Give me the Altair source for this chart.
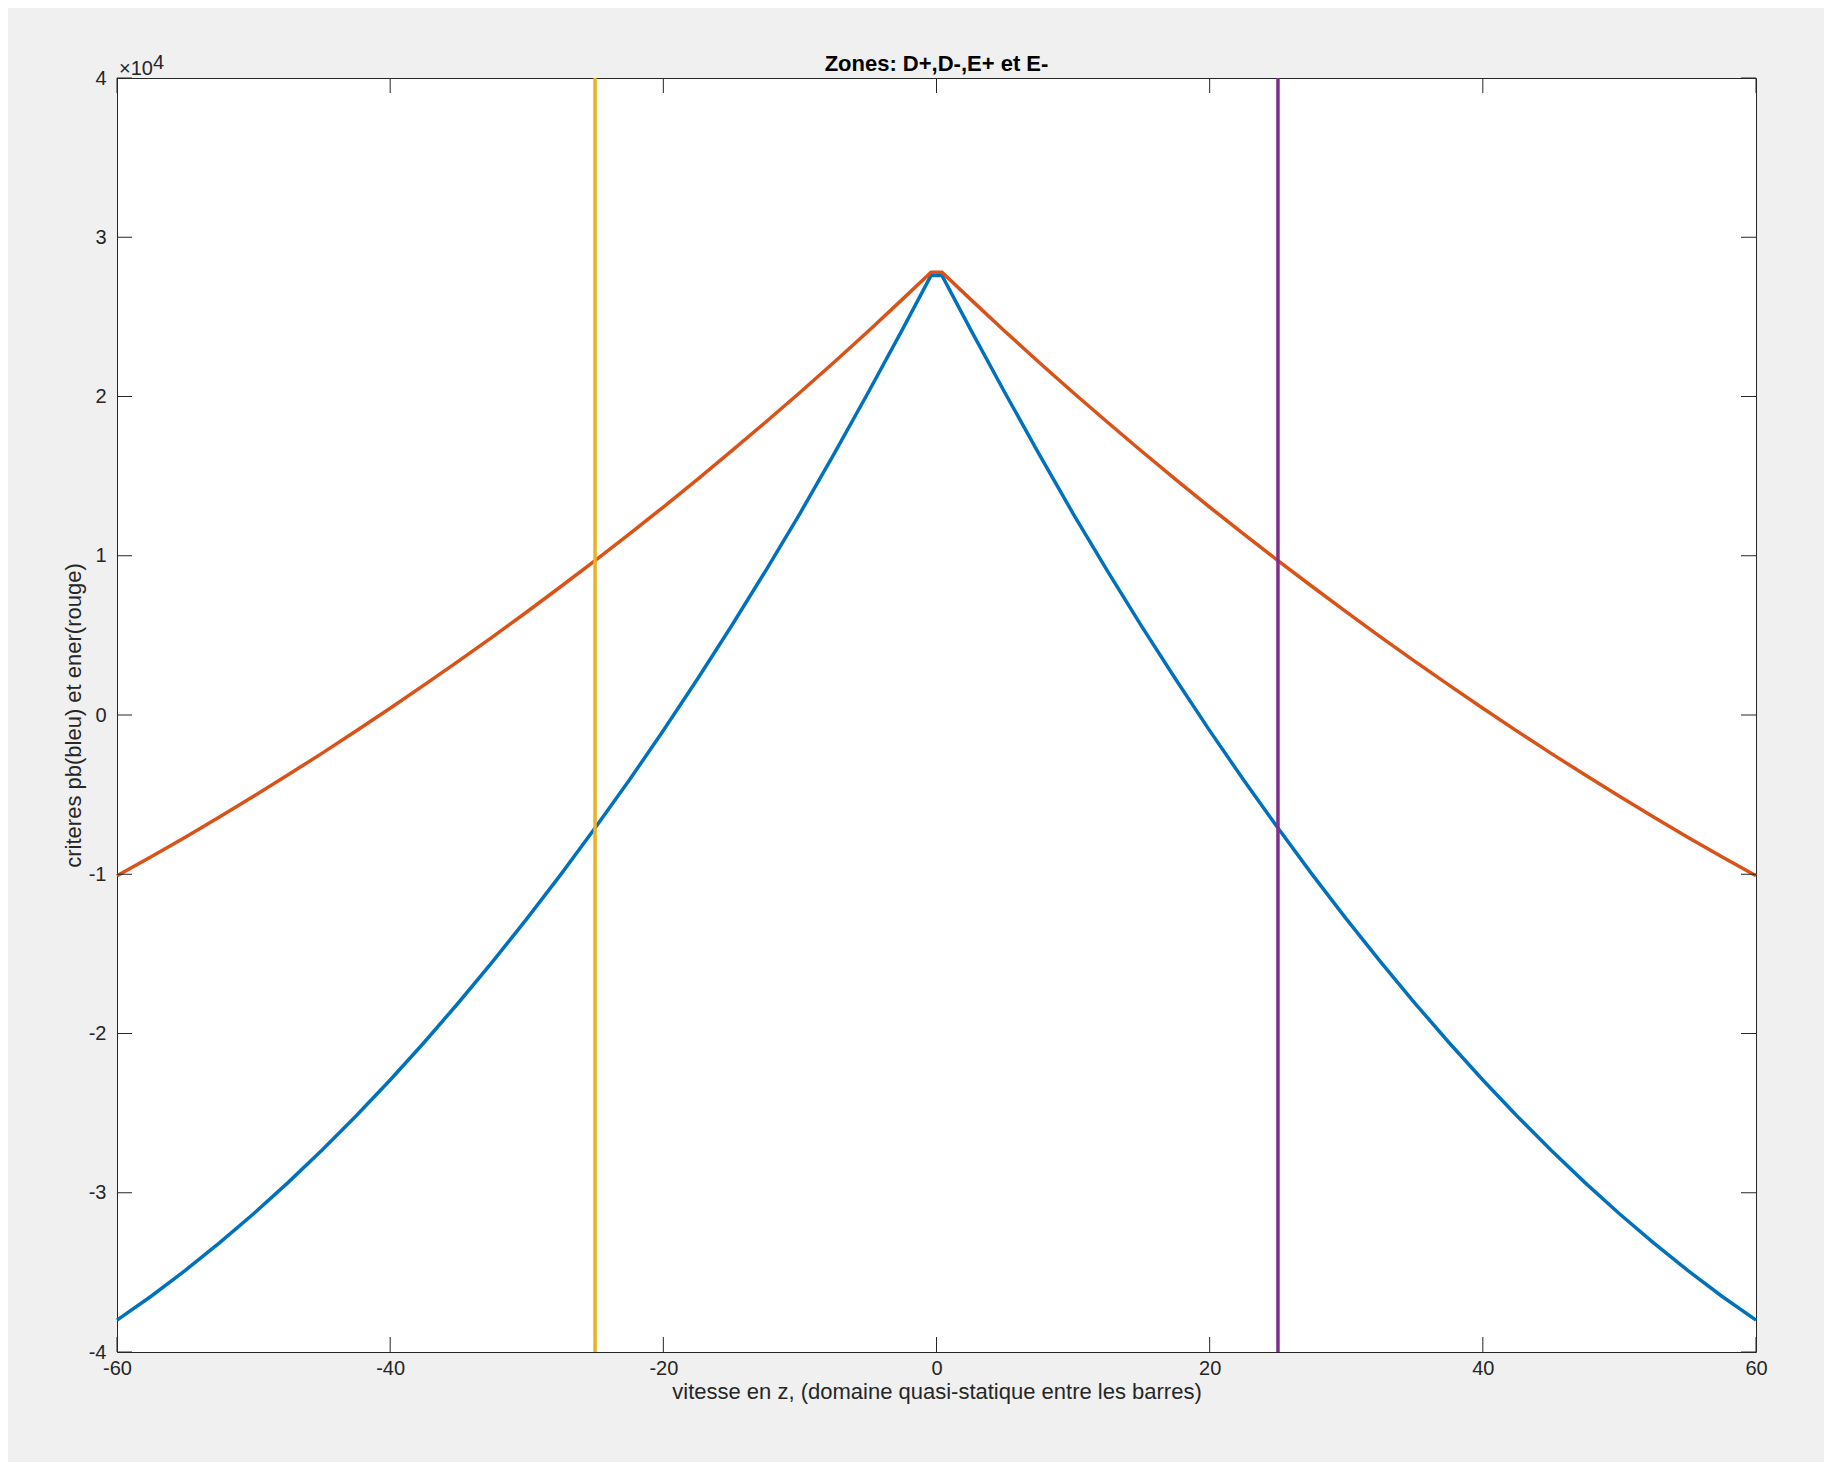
import altair as alt
import pandas as pd

# ---- data ----
x_vals = [-60, -57.5, -55, -52.5, -50, -47.5, -45, -42.5, -40, -37.5, -35, -32.5, -30,
          -27.5, -25, -22.5, -20, -17.5, -15, -12.5, -10, -7.5, -5, -2.5, -0.4,
          0.4, 2.5, 5, 7.5, 10, 12.5, 15, 17.5, 20, 22.5, 25, 27.5, 30,
          32.5, 35, 37.5, 40, 42.5, 45, 47.5, 50, 52.5, 55, 57.5, 60]
red_vals = [-10100, -8900, -7670, -6400, -5100, -3770, -2410, -1010, 420, 1890, 3380, 4910, 6470,
            8070, 9700, 11360, 13060, 14800, 16580, 18400, 20250, 22150, 24100, 26100, 27800,
            27800, 26100, 24100, 22150, 20250, 18400, 16580, 14800, 13060, 11360, 9700, 8070, 6470,
            4910, 3380, 1890, 420, -1010, -2410, -3770, -5100, -6400, -7670, -8900, -10100]
blue_vals = [-38000, -36500, -34880, -33150, -31320, -29380, -27330, -25180, -22920, -20550, -18070, -15490, -12800,
             -10010, -7100, -4100, -980, 2260, 5600, 9070, 12650, 16400, 20250, 24200, 27600,
             27600, 24200, 20250, 16400, 12650, 9070, 5600, 2260, -980, -4100, -7100, -10010, -12800,
             -15490, -18070, -20550, -22920, -25180, -27330, -29380, -31320, -33150, -34880, -36500, -38000]
vline_x = [-25, 25]
vline_colors = ["#EDB120", "#7E2F8E"]
x_ticks = [-60, -40, -20, 0, 20, 40, 60]
y_ticks = [-40000, -30000, -20000, -10000, 0, 10000, 20000, 30000, 40000]

W, H = 1639, 1274
TXT = "#262626"
FONT = "Liberation Sans"

curves = pd.DataFrame({"x": x_vals, "red": red_vals, "blue": blue_vals})
vl = pd.DataFrame({"x": vline_x, "c": vline_colors})
xt = pd.DataFrame({"x": x_ticks})
yt = pd.DataFrame({"y": y_ticks})

X = alt.X("x:Q", scale=alt.Scale(domain=[-60, 60], nice=False, zero=False),
          axis=alt.Axis(values=x_ticks, ticks=False, domain=False, grid=False,
                        labelExpr="'' + datum.value", labelFlush=False,
                        labelFontSize=20, labelFont=FONT, labelColor=TXT, labelPadding=6,
                        title="vitesse en z, (domaine quasi-statique entre les barres)",
                        titleFontSize=22, titleFont=FONT, titleColor=TXT,
                        titleFontWeight="normal", titlePadding=3))
Yscale = alt.Scale(domain=[-40000, 40000], nice=False, zero=False)
Yaxis = alt.Axis(values=y_ticks, ticks=False, domain=False, grid=False,
                 labelExpr="'' + (datum.value / 10000)", labelFlush=False,
                 labelFontSize=20, labelFont=FONT, labelColor=TXT, labelPadding=11,
                 title="criteres pb(bleu) et ener(rouge)",
                 titleFontSize=22, titleFont=FONT, titleColor=TXT,
                 titleFontWeight="normal", titlePadding=3)

base = alt.Chart(curves)
blue = base.mark_line(color="#0072BD", strokeWidth=3.5).encode(
    x=X, y=alt.Y("blue:Q", scale=Yscale, axis=Yaxis))
red = base.mark_line(color="#D95319", strokeWidth=3.5).encode(
    x=X, y=alt.Y("red:Q", scale=Yscale, axis=Yaxis))
vlines = alt.Chart(vl).mark_rule(strokeWidth=3.5).encode(
    x=X, color=alt.Color("c:N", scale=None, legend=None))

tick_len = 15
xb = alt.Chart(xt).mark_rule(color=TXT, strokeWidth=1).encode(
    x=X, y=alt.value(H), y2=alt.value(H - tick_len))
xtop = alt.Chart(xt).mark_rule(color=TXT, strokeWidth=1).encode(
    x=X, y=alt.value(0), y2=alt.value(tick_len))
yl = alt.Chart(yt).mark_rule(color=TXT, strokeWidth=1).encode(
    y=alt.Y("y:Q", scale=Yscale, axis=Yaxis), x=alt.value(0), x2=alt.value(tick_len))
yr = alt.Chart(yt).mark_rule(color=TXT, strokeWidth=1).encode(
    y=alt.Y("y:Q", scale=Yscale, axis=Yaxis), x=alt.value(W - tick_len), x2=alt.value(W))

exp_main = alt.Chart(pd.DataFrame({"t": ["\u00d710"]})).mark_text(
    align="left", baseline="alphabetic", fontSize=20, font=FONT, color=TXT).encode(
    text="t:N", x=alt.value(2), y=alt.value(-3))
exp_sup = alt.Chart(pd.DataFrame({"t": ["4"]})).mark_text(
    align="left", baseline="alphabetic", fontSize=20, font=FONT, color=TXT).encode(
    text="t:N", x=alt.value(36), y=alt.value(-9))

chart = alt.layer(blue, red, vlines, xb, xtop, yl, yr, exp_main, exp_sup).properties(
    width=W, height=H,
    title=alt.TitleParams("Zones: D+,D-,E+ et E-", fontSize=22, fontWeight="bold",
                          font=FONT, color="black", offset=4, dy=27, anchor="middle",
                          frame="group"),
    padding={"left": 109, "top": 70, "right": 68, "bottom": 110},
    autosize=alt.AutoSizeParams(type="none"),
    background="#F0F0F0",
).configure_view(stroke=TXT, strokeWidth=1, fill="white")

chart.save("out.html", embed_options={"renderer": "svg", "actions": False})
